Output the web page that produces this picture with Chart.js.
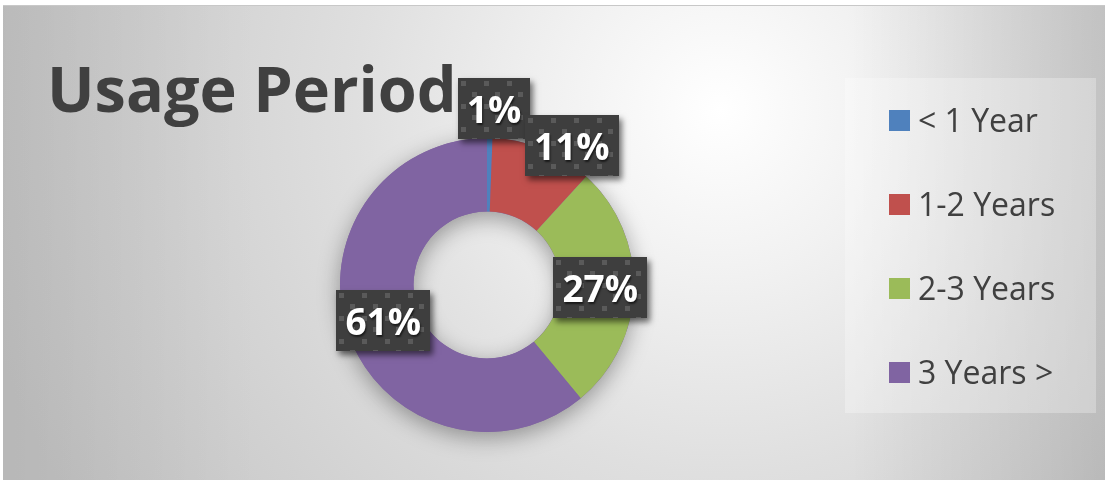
<!DOCTYPE html>
<html>
<head>
<meta charset="utf-8">
<script src="https://cdn.jsdelivr.net/npm/chart.js@4/dist/chart.umd.min.js"></script>
<style>
  html, body { margin: 0; padding: 0; background: #ffffff; }
  #wrap { width: 1105px; height: 480px; }
</style>
</head>
<body>
<div id="wrap"><canvas id="c" width="1105" height="480"></canvas></div>
<script>
// ---- data ----
const chartTitle = 'Usage Period';
const categories = ['< 1 Year', '1-2 Years', '2-3 Years', '3 Years >'];
const values = [0.6, 11.2, 27.2, 61.0];
const percentLabels = ['1%', '11%', '27%', '61%'];
const sliceColors = ['#4F81BD', '#C0504D', '#9BBB59', '#8064A2'];

const FONT = "'Open Sans', 'Noto Sans', sans-serif";
const TEXT = '#404040';

// background + frame
const backgroundPlugin = {
  id: 'bg',
  beforeDraw(chart) {
    const ctx = chart.ctx;
    const W = chart.width, H = chart.height;
    ctx.save();
    ctx.fillStyle = '#ffffff';
    ctx.fillRect(0, 0, W, H);
    const x0 = 3, y0 = 5;
    const g = ctx.createRadialGradient(720, 110, 0, 720, 110, 760);
    g.addColorStop(0, '#ffffff');
    g.addColorStop(0.22, '#f1f1f1');
    g.addColorStop(0.48, '#dfdfdf');
    g.addColorStop(0.75, '#d0d0d0');
    g.addColorStop(1, '#c3c3c3');
    ctx.fillStyle = g;
    ctx.fillRect(x0, y0, W - x0, H - y0);
    // right side darkening
    const gr = ctx.createLinearGradient(850, 0, W, 0);
    gr.addColorStop(0, 'rgba(0,0,0,0)');
    gr.addColorStop(1, 'rgba(0,0,0,0.12)');
    ctx.fillStyle = gr;
    ctx.fillRect(x0, y0, W - x0, H - y0);
    // left side darkening
    const gl = ctx.createLinearGradient(x0, 0, 260, 0);
    gl.addColorStop(0, 'rgba(0,0,0,0.06)');
    gl.addColorStop(1, 'rgba(0,0,0,0)');
    ctx.fillStyle = gl;
    ctx.fillRect(x0, y0, W - x0, H - y0);
    // frame line
    ctx.fillStyle = '#c8c8c8';
    ctx.fillRect(x0, y0, W - x0, 1);
    ctx.restore();
  }
};

// soft shadow behind the ring
const ringShadowPlugin = {
  id: 'ringShadow',
  beforeDatasetsDraw(chart) {
    const meta = chart.getDatasetMeta(0);
    if (!meta.data.length) return;
    const a = meta.data[0];
    const ctx = chart.ctx;
    ctx.save();
    ctx.shadowColor = 'rgba(0,0,0,0.35)';
    ctx.shadowBlur = 22;
    ctx.shadowOffsetX = 0;
    ctx.shadowOffsetY = 6;
    ctx.fillStyle = '#8064A2';
    ctx.beginPath();
    ctx.arc(a.x, a.y, a.outerRadius, 0, Math.PI * 2, false);
    ctx.arc(a.x, a.y, a.innerRadius, 0, Math.PI * 2, true);
    ctx.closePath();
    ctx.fill();
    ctx.restore();
  }
};

// title + legend
const decorPlugin = {
  id: 'decor',
  afterDraw(chart) {
    const ctx = chart.ctx;
    ctx.save();
    // title
    ctx.fillStyle = TEXT;
    ctx.font = 'bold 63px ' + FONT;
    ctx.textBaseline = 'alphabetic';
    ctx.textAlign = 'left';
    ctx.fillText(chartTitle, 47, 112);

    // legend box
    ctx.fillStyle = 'rgba(255,255,255,0.28)';
    ctx.fillRect(845, 78, 251, 335);
    ctx.font = '32px ' + FONT;
    const labels = chart.data.labels;
    const cols = chart.data.datasets[0].backgroundColor;
    labels.forEach((lab, i) => {
      const y = 110 + i * 84;
      ctx.fillStyle = cols[i];
      ctx.fillRect(889, y, 21, 21);
      ctx.fillStyle = TEXT;
      ctx.fillText(lab, 918, y + 22);
    });
    ctx.restore();
  }
};

// data label boxes
function makePattern(ctx) {
  const c = document.createElement('canvas');
  c.width = 23; c.height = 23;
  const p = c.getContext('2d');
  p.fillStyle = '#3e3e3e';
  p.fillRect(0, 0, 23, 23);
  p.fillStyle = '#5a5a5a';
  p.fillRect(3, 3, 5, 5);
  p.fillRect(14, 14, 5, 5);
  return ctx.createPattern(c, 'repeat');
}

const labelPlugin = {
  id: 'boxLabels',
  afterDatasetsDraw(chart, args, opts) {
    const ctx = chart.ctx;
    const meta = chart.getDatasetMeta(0);
    const pat = makePattern(ctx);
    ctx.save();
    ctx.font = 'bold 37px ' + FONT;
    meta.data.forEach((arc, i) => {
      const p = arc.tooltipPosition();
      const off = opts.offsets[i] || [0, 0];
      const cx = p.x + off[0], cy = p.y + off[1];
      const txt = percentLabels[i];
      const tw = ctx.measureText(txt).width;
      const w = Math.round(tw + 18), h = 61;
      const bx = Math.round(cx - w / 2), by = Math.round(cy - h / 2);
      // box with shadow
      ctx.save();
      ctx.shadowColor = 'rgba(0,0,0,0.55)';
      ctx.shadowBlur = 6;
      ctx.shadowOffsetX = 3;
      ctx.shadowOffsetY = 4;
      ctx.fillStyle = '#3e3e3e';
      ctx.fillRect(bx, by, w, h);
      ctx.restore();
      ctx.save();
      ctx.translate(bx, by);
      ctx.fillStyle = pat;
      ctx.fillRect(0, 0, w, h);
      ctx.restore();
      // text
      ctx.save();
      ctx.shadowColor = 'rgba(0,0,0,0.6)';
      ctx.shadowBlur = 2;
      ctx.shadowOffsetX = 1;
      ctx.shadowOffsetY = 2;
      ctx.fillStyle = '#ffffff';
      ctx.textAlign = 'center';
      ctx.textBaseline = 'alphabetic';
      ctx.fillText(txt, cx, by + h / 2 + 14);
      ctx.restore();
    });
    ctx.restore();
  }
};

new Chart(document.getElementById('c'), {
  type: 'doughnut',
  data: {
    labels: categories,
    datasets: [{
      data: values,
      backgroundColor: sliceColors,
      borderWidth: 0,
      hoverOffset: 0
    }]
  },
  options: {
    responsive: false,
    animation: false,
    cutout: '50%',
    rotation: 0,
    layout: { padding: { left: 340, right: 471, top: 138, bottom: 48 } },
    plugins: {
      legend: { display: false },
      title: { display: false },
      tooltip: { enabled: false },
      boxLabels: { offsets: [[5, -66], [43, -38], [3, 0], [0, -2]] }
    }
  },
  plugins: [backgroundPlugin, ringShadowPlugin, labelPlugin, decorPlugin]
});
</script>
</body>
</html>
